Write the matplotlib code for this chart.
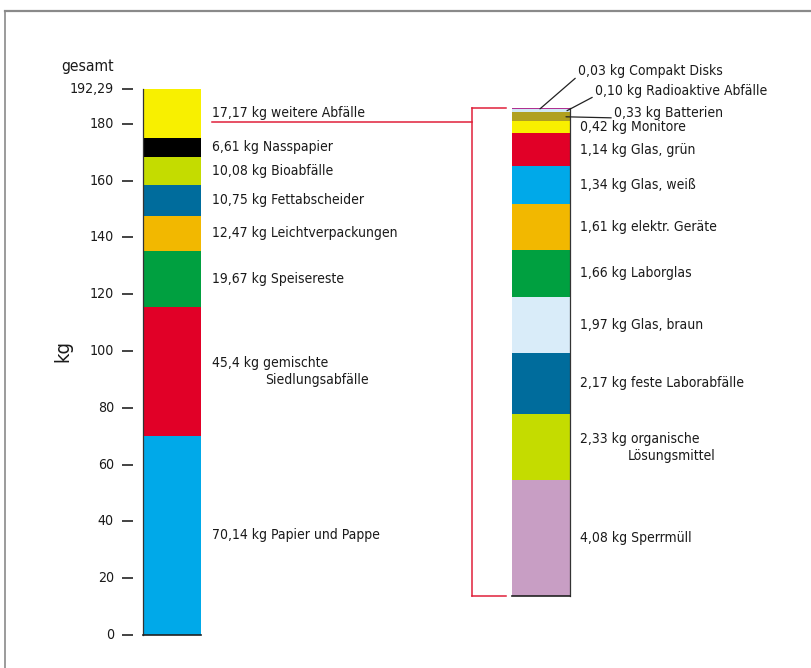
import matplotlib
matplotlib.use("Agg")
import matplotlib.pyplot as plt
import matplotlib.font_manager as fm

# narrow sans: DejaVu Sans Condensed if installed, otherwise Liberation Sans
condensed = [f for f in fm.fontManager.ttflist
             if f.name == 'DejaVu Sans' and f.stretch == 'condensed' and f.style == 'normal']
if condensed:
    plt.rcParams['font.family'] = ['DejaVu Sans']
    plt.rcParams['font.stretch'] = 'condensed'
else:
    plt.rcParams['font.family'] = ['Liberation Sans', 'DejaVu Sans']

# left bar (bottom to top), kg
left_values = [70.14, 45.4, 19.67, 12.47, 10.75, 10.08, 6.61, 17.17]
left_names = ["Papier und Pappe", "gemischte\nSiedlungsabfälle", "Speisereste",
              "Leichtverpackungen", "Fettabscheider", "Bioabfälle", "Nasspapier",
              "weitere Abfälle"]
left_colors = ["#00a9e9", "#e10027", "#00a040", "#f2b800", "#006c9c", "#c4dc00",
               "#000000", "#f8f000"]

# right bar = breakdown of "weitere Abfälle" (bottom to top), kg
right_values = [4.08, 2.33, 2.17, 1.97, 1.66, 1.61, 1.34, 1.14, 0.42, 0.33, 0.10, 0.03]
right_names = ["Sperrmüll", "organische\nLösungsmittel", "feste Laborabfälle",
               "Glas, braun", "Laborglas", "elektr. Geräte", "Glas, weiß", "Glas, grün",
               "Monitore", "Batterien", "Radioaktive Abfälle", "Compakt Disks"]
right_colors = ["#c89ec4", "#c4dc00", "#006c9c", "#d9ecf9", "#00a040", "#f2b800",
                "#00a9e9", "#e10027", "#f8f000", "#b0a020", "#d0e8f4", "#b03090"]

tick_vals = [0, 20, 40, 60, 80, 100, 120, 140, 160, 180, 192.29]
tick_labels = ["0", "20", "40", "60", "80", "100", "120", "140", "160", "180", "192,29"]

total = sum(left_values)
S = 546 / total          # pixels per kg on the left scale
ZOOM = 10                # right bar is drawn 10x
RIGHT_BASE = 13.65       # where the zoomed bar starts on the left scale


def py2kg(py):
    return (635 - py) / S


fig = plt.figure(figsize=(8.12, 6.68), dpi=100)
ax = fig.add_axes([0, 0, 1, 1])
ax.set_xlim(0, 812)
ax.set_ylim(py2kg(668), py2kg(0))
ax.axis('off')

# frame (only top and left visible)
ax.plot([5 / 812, 1], [1 - 11 / 668, 1 - 11 / 668], color="#8a8a8a", lw=1.6,
        transform=ax.transAxes, clip_on=False)
ax.plot([5 / 812, 5 / 812], [0, 1 - 11 / 668], color="#8a8a8a", lw=1.2,
        transform=ax.transAxes, clip_on=False)

FS = 10.0
txt = dict(fontsize=FS, color="#1a1a1a", va='center')

# left stacked bar
bottom = 0
for v, name, c in zip(left_values, left_names, left_colors):
    ax.bar(172, v, width=58, bottom=bottom, color=c, linewidth=0)
    mid = bottom + v / 2
    lines = f"{str(v).replace('.', ',')} kg {name}".split("\n")
    if len(lines) == 1:
        ax.text(212, mid, lines[0], **txt)
    else:
        ax.text(212, mid + 3.0, lines[0], **txt)
        ax.text(265, mid - 3.0, lines[1], **txt)
    bottom += v
ax.plot([143, 143], [0, total], color="#333333", lw=0.9)
ax.plot([143, 201], [0, 0], color="#222222", lw=1.2)

# y ticks
ax.hlines(tick_vals, 122, 133, color="#222222", lw=1.2)
for t, lab in zip(tick_vals, tick_labels):
    ax.text(114, t, lab, ha='right', va='center', fontsize=10.2, color="#1a1a1a")
ax.text(61, py2kg(66), "gesamt", ha='left', va='center', fontsize=11.2, color="#1a1a1a")
ax.text(63, py2kg(351), "kg", ha='center', va='center', rotation=90, fontsize=14.5,
        color="#1a1a1a")

# right stacked bar (zoomed)
bottom = RIGHT_BASE
mids = []
for v, name, c in zip(right_values, right_names, right_colors):
    h = v * ZOOM
    ax.bar(541, h, width=58, bottom=bottom, color=c, linewidth=0)
    mids.append(bottom + h / 2)
    bottom += h
right_top = bottom
ax.plot([570, 570], [RIGHT_BASE, right_top], color="#333333", lw=0.9)
ax.plot([512, 570], [RIGHT_BASE, RIGHT_BASE], color="#222222", lw=1.2)

for i, (v, name) in enumerate(zip(right_values, right_names)):
    label = f"{v:.2f}".replace('.', ',') + f" kg {name}"
    lines = label.split("\n")
    if i < 9:
        if len(lines) == 1:
            ax.text(580, mids[i], lines[0], **txt)
        else:
            ax.text(580, mids[i] + 3.0, lines[0], **txt)
            ax.text(628, mids[i] - 3.0, lines[1], **txt)

# small fractions with leader lines
small = [(9, 566, 614, 113), (10, 567, 595, 91), (11, 540, 578, 71)]
for i, x0, tx, ty in small:
    label = f"{right_values[i]:.2f}".replace('.', ',') + f" kg {right_names[i]}"
    ax.annotate(label, xy=(x0, mids[i]), xytext=(tx, py2kg(ty)), textcoords='data',
                ha='left', va='center', fontsize=FS, color="#1a1a1a",
                arrowprops=dict(arrowstyle='-', color="#222222", lw=0.9,
                                shrinkA=0, shrinkB=0, relpos=(0, 0.15)))

# red bracket linking "weitere Abfälle" to the zoomed bar
red = "#e0203a"
red_y = total - left_values[-1] / 2 - 3.0
ax.plot([212, 472], [red_y, red_y], color=red, lw=1.1)
ax.plot([472, 472], [RIGHT_BASE, right_top], color=red, lw=1.1)
ax.plot([472, 506], [right_top, right_top], color=red, lw=1.1)
ax.plot([472, 506], [RIGHT_BASE, RIGHT_BASE], color=red, lw=1.1)

fig.savefig("out.png", dpi=100)
